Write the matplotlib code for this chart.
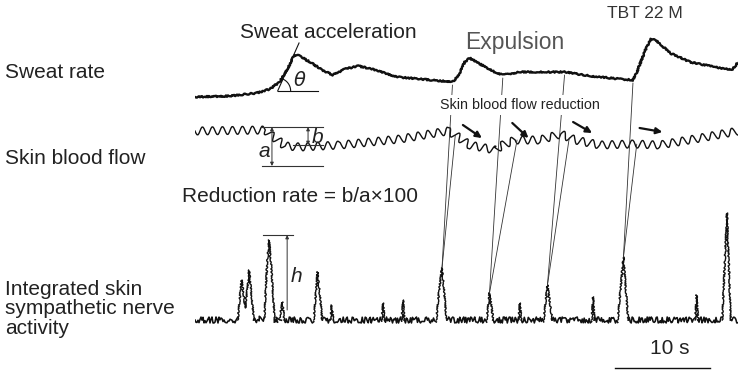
import numpy as np
import matplotlib.pyplot as plt
from matplotlib.patches import ConnectionPatch

plt.rcParams['font.family'] = ['Liberation Sans', 'DejaVu Sans']

W, H = 738, 370
X0 = 195            # left edge of the traces, px
PX_PER_S = 9.5      # chart speed
T_END = (W - X0) / PX_PER_S

# sweat rate (a.u.) against time (s)
sweat_t = [0.0, 3.7, 6.5, 7.9, 8.9, 9.8, 10.4, 10.8, 12.1, 13.4, 14.5, 15.8, 17.2, 18.6,
           21.3, 23.7, 27.1, 27.7, 28.4, 28.9, 30.0, 31.3, 32.4, 34.2, 36.8, 38.9, 41.6,
           44.7, 46.1, 46.6, 47.4, 48.0, 48.5, 50.0, 52.1, 54.7, 56.5, 57.2]
sweat_v = [3, 4, 7, 11, 18, 32, 44, 45, 38, 30, 25, 31, 34, 31,
           23, 21, 18, 24, 38, 42, 36, 29, 25, 28, 28, 28, 24,
           21, 20, 30, 50, 61, 60, 47, 38, 33, 30, 38]

# skin blood flow, mean level of the pulse signal (a.u.)
flow_t = [0.0, 7.4, 8.0, 9.5, 11.1, 15.3, 21.6, 26.6, 27.4, 28.9, 31.6, 32.4, 33.7,
          36.3, 38.5, 40.0, 42.6, 46.1, 48.9, 53.2, 57.2]
flow_v = [79, 80, 75, 64, 63, 65, 71, 79, 75, 65, 60, 65, 70,
          70, 76, 70, 65, 66, 65, 72, 79]

# integrated skin sympathetic nerve activity (a.u.)
ssna_t = [0.0, 4.5, 4.9, 5.3, 5.7, 6.2, 7.3, 7.6, 7.8, 8.0, 8.4, 8.9, 9.2, 9.4,
          12.5, 12.9, 13.4, 14.25, 14.4, 14.55, 19.65, 19.8, 19.95, 21.75, 21.9, 22.05,
          25.4, 25.7, 26.0, 26.3, 26.5, 30.7, 31.0, 31.4, 34.05, 34.2, 34.35,
          36.7, 37.1, 37.6, 41.75, 41.9, 42.05, 44.5, 45.1, 45.6, 52.65, 52.8, 52.95,
          55.5, 56.0, 56.4, 57.2]
ssna_v = [10, 10, 50, 22, 60, 10, 12, 68, 90, 68, 8, 12, 28, 10,
          10, 58, 10, 10, 25, 10, 10, 27, 10, 10, 30, 10,
          10, 40, 62, 30, 10, 10, 37, 10, 10, 27, 10,
          10, 45, 10, 10, 33, 10, 10, 73, 10, 10, 35, 10,
          10, 117, 10, 10]
SSNA_FLOOR = 12     # above this a sample belongs to a burst

# burst -> sweat expulsion -> blood flow reduction
burst_t = [26.0, 31.0, 37.1, 45.1]
burst_v = [62, 37, 45, 73]
onset_t = [27.1, 32.4, 38.9, 46.1]
reduction_t = [27.4, 33.9, 39.4, 46.5]

fig = plt.figure(figsize=(W / 100, H / 100), dpi=100)


def trace_axes(top, bottom, ylim):
    ax = fig.add_axes([X0 / W, 1 - bottom / H, (W - X0) / W, (bottom - top) / H])
    ax.set_xlim(0, T_END)
    ax.set_ylim(*ylim)
    ax.set_axis_off()
    return ax


def label(x, y, s, **kw):
    kw.setdefault('va', 'center')
    return fig.text(x / W, 1 - y / H, s, **kw)


ax_sw = trace_axes(0, 100, (0, 100))
ax_bf = trace_axes(100, 210, (0, 110))
ax_sn = trace_axes(210, 370, (-40, 120))

ink = '#111111'

# sweat rate
sw_line, = ax_sw.plot(sweat_t, sweat_v, color=ink, lw=1.7)
sw_line.set_sketch_params(0.7, 2, 4)

# blood flow: pulse ripple riding on the mean level
bf_line, = ax_bf.plot(flow_t, flow_v, color=ink, lw=1.0)
bf_line.set_sketch_params(4, 10, 1)

# SSNA: noisy floor, bursts drawn on top
sn_t = np.array(ssna_t)
sn_v = np.array(ssna_v, dtype=float)
up = sn_v > SSNA_FLOOR
floor_line, = ax_sn.plot(sn_t, np.where(up, np.nan, sn_v), color=ink, lw=1.15)
floor_line.set_sketch_params(3.0, 1.2, 6)
idx = np.flatnonzero(up)
for run in np.split(idx, np.flatnonzero(np.diff(idx) > 1) + 1):
    sl = slice(run[0] - 1, run[-1] + 2)
    b_line, = ax_sn.plot(sn_t[sl], sn_v[sl], color=ink, lw=1.0)
    b_line.set_sketch_params(0.8, 1.5, 4)

# theta: slope of the sweat rise
ax_sw.plot([8.7, 12.9], [9, 9], color=ink, lw=0.8)
ax_sw.plot([8.7, 10.95], [9, 57], color=ink, lw=0.8)
phi = np.radians(np.linspace(0, 66, 30))
ax_sw.plot(8.7 + 13 / PX_PER_S * np.cos(phi), 9 + 13 * np.sin(phi), color=ink, lw=0.8)
ax_sw.text(11.05, 20, r'$\theta$', fontsize=14, ha='center', va='center', color='#222222')

# a / b: blood flow reduction measure
for y0, t_a, t_b in [(83, 7.05, 13.5), (65, 10.3, 13.5), (44, 7.05, 13.5)]:
    ax_bf.plot([t_a, t_b], [y0, y0], color='#333333', lw=0.8)
arr = dict(arrowstyle='<|-|>', lw=0.7, color='#333333', mutation_scale=5,
           shrinkA=0, shrinkB=0)
ax_bf.annotate('', xy=(8.1, 44), xytext=(8.1, 83), arrowprops=arr)
ax_bf.annotate('', xy=(11.9, 65), xytext=(11.9, 83), arrowprops=arr)
ax_bf.text(7.3, 58, 'a', fontsize=15, style='italic', ha='center', va='center', color='#222222')
ax_bf.text(12.9, 72, 'b', fontsize=15, style='italic', ha='center', va='center', color='#222222')

# reduction arrows
for (ta, va), (tb, vb) in [((28.2, 85), (30.2, 72)), ((33.4, 87), (35.1, 72)),
                           ((39.8, 88), (41.8, 77)), ((46.8, 82), (49.2, 78))]:
    ax_bf.annotate('', xy=(tb, vb), xytext=(ta, va),
                   arrowprops=dict(arrowstyle='-|>', lw=1.6, color=ink,
                                   mutation_scale=9, shrinkA=0, shrinkB=0))

# h: burst amplitude
ax_sn.plot([7.2, 10.3], [95, 95], color='#333333', lw=0.8)
ax_sn.annotate('', xy=(9.7, 95), xytext=(9.7, 20),
               arrowprops=dict(arr, arrowstyle='-|>'))
ax_sn.text(10.7, 53, 'h', fontsize=15, style='italic', ha='center', va='center', color='#222222')

# 10 s scale bar
ax_sn.plot([44.2, 54.2], [-38, -38], color=ink, lw=1.0, clip_on=False)
ax_sn.text(50.0, -19, '10 s', fontsize=15, ha='center', va='center', color='#222222')

# links from each burst to the sweat onset and to the flow reduction
for bt, bv, ot, rt in zip(burst_t, burst_v, onset_t, reduction_t):
    ov = np.interp(ot, sweat_t, sweat_v) - 3
    rv = np.interp(rt, flow_t, flow_v)
    for xyA, axA in [((ot, ov), ax_sw), ((rt, rv), ax_bf)]:
        cp = ConnectionPatch(xyA=xyA, coordsA=axA.transData, xyB=(bt, bv),
                             coordsB=ax_sn.transData, color='#333333', lw=0.6)
        fig.add_artist(cp)

# labels
txt = '#222222'
label(5, 73, 'Sweat rate', fontsize=15, color=txt)
label(5, 158, 'Skin blood flow', fontsize=15, color=txt)
label(5, 309, 'Integrated skin\nsympathetic nerve\nactivity', fontsize=15, color=txt,
      linespacing=1.03)
label(240, 32, 'Sweat acceleration', fontsize=15, color=txt)
label(465, 42, 'Expulsion', fontsize=16.5, color='#555555')
label(607, 14, 'TBT 22 M', fontsize=12.5, color='#333333')
label(440, 105, 'Skin blood flow reduction', fontsize=10.3, color=txt,
      bbox=dict(boxstyle='square,pad=0.2', fc='white', ec='none'))
label(182, 196, 'Reduction rate = b/a\u00d7100', fontsize=15, color=txt)

fig.savefig('out.png', dpi=100)
